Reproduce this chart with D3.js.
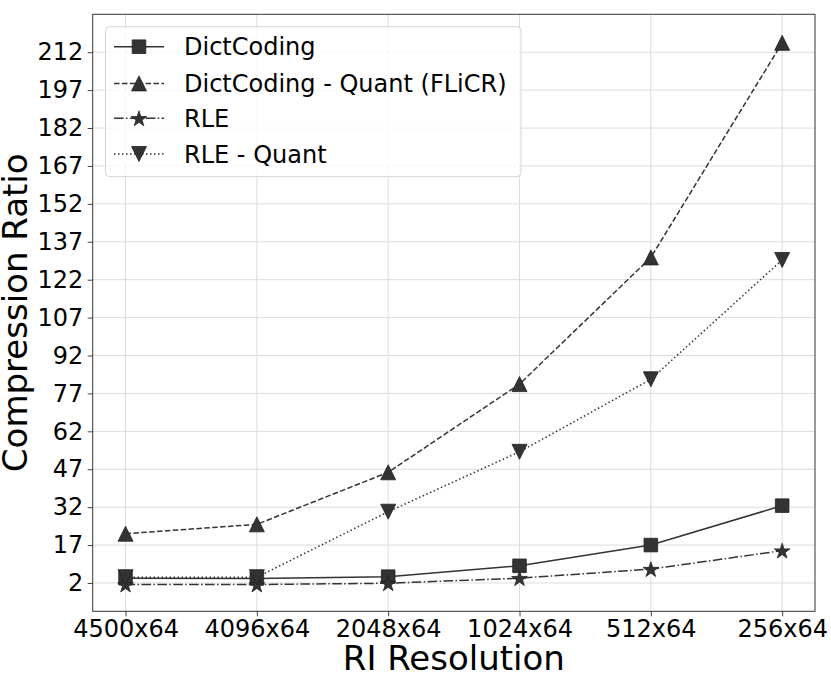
<!DOCTYPE html>
<html>
<head>
<meta charset="utf-8">
<script src="https://cdn.jsdelivr.net/npm/d3@7"></script>
<style>
    body { margin: 0; background: #fff; }
    text { font-family: "DejaVu Sans", sans-serif; }
</style>
</head>
<body>
<div id="chart-area"></div>
<script>

// Data
var resolutions = ["4500x64", "4096x64", "2048x64", "1024x64", "512x64", "256x64"];
var yTicks = [2, 17, 32, 47, 62, 77, 92, 107, 122, 137, 152, 167, 182, 197, 212];

var dictCoding      = [3.9, 3.8, 4.5, 8.8, 17.0, 32.6];
var dictCodingQuant = [21.5, 25.2, 45.8, 80.7, 130.8, 215.7];
var rle             = [1.4, 1.4, 1.9, 3.9, 7.5, 14.8];
var rleQuant        = [4.3, 4.3, 30.2, 53.9, 82.6, 129.8];

var seriesNames = ["DictCoding", "DictCoding - Quant (FLiCR)", "RLE", "RLE - Quant"];

var series = [
    { name: seriesNames[0], values: dictCoding,      dash: null,              marker: "square" },
    { name: seriesNames[1], values: dictCodingQuant, dash: "5.5,2.4",         marker: "up" },
    { name: seriesNames[2], values: rle,             dash: "9.6,2.4,1.5,2.4", marker: "star" },
    { name: seriesNames[3], values: rleQuant,        dash: "1.5,2.5",         marker: "down" }
];

var margin = { top: 14.3, right: 16, bottom: 66.7, left: 92.7 };
var width = 831 - margin.left - margin.right,
    height = 678 - margin.top - margin.bottom;

var ink = "#333";

var svg = d3.select("#chart-area").append("svg")
    .attr("width", 831)
    .attr("height", 678);

var g = svg.append("g")
    .attr("transform", "translate(" + margin.left + "," + margin.top + ")");

// scales (matplotlib-like 5% margins)
var x = d3.scaleLinear()
    .domain([-0.25, resolutions.length - 1 + 0.25])
    .range([0, width]);

var y = d3.scaleLinear()
    .domain([-9.2, 227])
    .range([height, 0]);

// grid
g.append("g").selectAll("line.vgrid")
    .data(resolutions)
    .enter().append("line")
    .attr("x1", function(d, i) { return x(i); })
    .attr("x2", function(d, i) { return x(i); })
    .attr("y1", 0)
    .attr("y2", height)
    .attr("stroke", "#dcdcdc")
    .attr("stroke-width", 1);

g.append("g").selectAll("line.hgrid")
    .data(yTicks)
    .enter().append("line")
    .attr("x1", 0)
    .attr("x2", width)
    .attr("y1", function(d) { return y(d); })
    .attr("y2", function(d) { return y(d); })
    .attr("stroke", "#dcdcdc")
    .attr("stroke-width", 1);

// axes
var xAxis = d3.axisBottom(x)
    .tickValues(d3.range(resolutions.length))
    .tickFormat(function(i) { return resolutions[i]; })
    .tickSize(5)
    .tickPadding(4);

var yAxis = d3.axisLeft(y)
    .tickValues(yTicks)
    .tickSize(5)
    .tickPadding(4.5);

var gx = g.append("g")
    .attr("transform", "translate(0," + height + ")")
    .call(xAxis);

var gy = g.append("g")
    .call(yAxis);

[gx, gy].forEach(function(a) {
    a.select(".domain").remove();
    a.selectAll(".tick line").attr("stroke", "#444");
    a.selectAll(".tick text")
        .attr("font-size", "24px")
        .attr("font-family", "DejaVu Sans")
        .attr("fill", "#000");
});

// frame
g.append("rect")
    .attr("x", 0)
    .attr("y", 0)
    .attr("width", width)
    .attr("height", height)
    .attr("fill", "none")
    .attr("stroke", "#333")
    .attr("stroke-width", 1);

// axis titles
svg.append("text")
    .attr("x", margin.left + width / 2)
    .attr("y", 670)
    .attr("text-anchor", "middle")
    .attr("font-size", "34px")
    .text("RI Resolution");

svg.append("text")
    .attr("transform", "translate(27," + (margin.top + height / 2) + ") rotate(-90)")
    .attr("text-anchor", "middle")
    .attr("font-size", "34px")
    .text("Compression Ratio");

// marker shapes, centred on the point like matplotlib
function markerPath(type) {
    var h;
    if (type === "square") {
        h = 6.8;
        return "M" + (-h) + "," + (-h) + "H" + h + "V" + h + "H" + (-h) + "Z";
    }
    if (type === "up") {
        h = 7.5;
        return "M0," + (-h) + "L" + h + "," + h + "L" + (-h) + "," + h + "Z";
    }
    if (type === "down") {
        h = 7.5;
        return "M0," + h + "L" + h + "," + (-h) + "L" + (-h) + "," + (-h) + "Z";
    }
    // star
    var pts = [], ro = 8.2, ri = ro * 0.382;
    for (var k = 0; k < 10; k++) {
        var r = k % 2 === 0 ? ro : ri;
        var a = -Math.PI / 2 + k * Math.PI / 5;
        pts.push([r * Math.cos(a), r * Math.sin(a) + 0.8]);
    }
    return "M" + pts.map(function(p) { return p[0].toFixed(2) + "," + p[1].toFixed(2); }).join("L") + "Z";
}

var line = d3.line()
    .x(function(d, i) { return x(i); })
    .y(function(d) { return y(d); });

series.forEach(function(s) {
    var sg = g.append("g");

    sg.append("path")
        .datum(s.values)
        .attr("d", line)
        .attr("fill", "none")
        .attr("stroke", ink)
        .attr("stroke-width", 1.5)
        .attr("stroke-dasharray", s.dash);

    sg.selectAll("path.mark")
        .data(s.values)
        .enter().append("path")
        .attr("class", "mark")
        .attr("transform", function(d, i) { return "translate(" + x(i) + "," + y(d) + ")"; })
        .attr("d", markerPath(s.marker))
        .attr("fill", ink)
        .attr("stroke", "#222")
        .attr("stroke-width", 0.8);
});

// legend
var legend = svg.append("g")
    .attr("transform", "translate(105.5,26.7)");

legend.append("rect")
    .attr("width", 415.5)
    .attr("height", 150)
    .attr("rx", 4)
    .attr("fill", "#fff")
    .attr("fill-opacity", 0.8)
    .attr("stroke", "#d4d4d4")
    .attr("stroke-width", 1);

var rowY = [20, 56.7, 91.6, 127.3];

var rows = legend.selectAll("g.row")
    .data(series)
    .enter().append("g")
    .attr("transform", function(d, i) { return "translate(0," + rowY[i] + ")"; });

rows.append("line")
    .attr("x1", 8.5)
    .attr("x2", 58.5)
    .attr("stroke", ink)
    .attr("stroke-width", 1.5)
    .attr("stroke-dasharray", function(d) { return d.dash; });

rows.append("path")
    .attr("transform", "translate(33.5,0)")
    .attr("d", function(d) { return markerPath(d.marker); })
    .attr("fill", ink)
    .attr("stroke", "#222")
    .attr("stroke-width", 0.8);

rows.append("text")
    .attr("x", 78.5)
    .attr("dy", "0.36em")
    .attr("font-size", "24px")
    .attr("fill", "#000")
    .text(function(d) { return d.name; });

</script>
</body>
</html>
